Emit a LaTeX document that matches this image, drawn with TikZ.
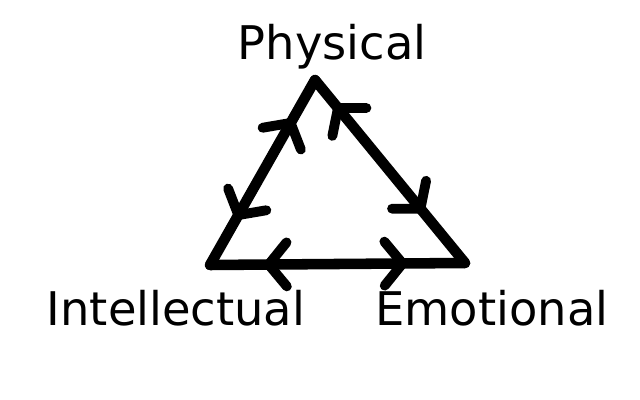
\documentclass[tikz,border=0pt]{standalone}
\usepackage{fontspec}
\setmainfont{DejaVu Sans}
\usepackage{tikz}
\usetikzlibrary{arrows.meta,decorations.markings,positioning}

\begin{document}
\begin{tikzpicture}[
    side/.style={draw, line width=7.5pt, line cap=round, line join=round},
    label/.style={anchor=base, inner sep=0pt, font=\fontsize{33}{40}\selectfont},
    >={Straight Barb[length=4.5mm, width=11mm, line width=7pt, line cap=round]}
]
    \useasboundingbox (0,0) rectangle (16,10);

    % Corners
    \coordinate (phys) at (7.875,8.0);
    \coordinate (intel) at (5.25,3.375);
    \coordinate (emo) at (11.625,3.425);

    % Labels
    \node[label] (physlabel) at (8.3,8.5) {Physical};
    \node[label] (intellabel) at (4.4,1.85) {Intellectual};
    \node[label] (emolabel) at (12.3,1.85) {Emotional};

    % Sides
    \path[side, postaction={decorate, decoration={markings,
        mark=at position 0.34 with {\arrow{<}},
        mark=at position 0.76 with {\arrow{>}}}}] (phys) -- (intel);
    \path[side, postaction={decorate, decoration={markings,
        mark=at position 0.25 with {\arrow{<}},
        mark=at position 0.73 with {\arrow{>}}}}] (phys) -- (emo);
    \path[side, postaction={decorate, decoration={markings,
        mark=at position 0.32 with {\arrow{<}},
        mark=at position 0.78 with {\arrow{>}}}}] (intel) -- (emo);
\end{tikzpicture}
\end{document}
